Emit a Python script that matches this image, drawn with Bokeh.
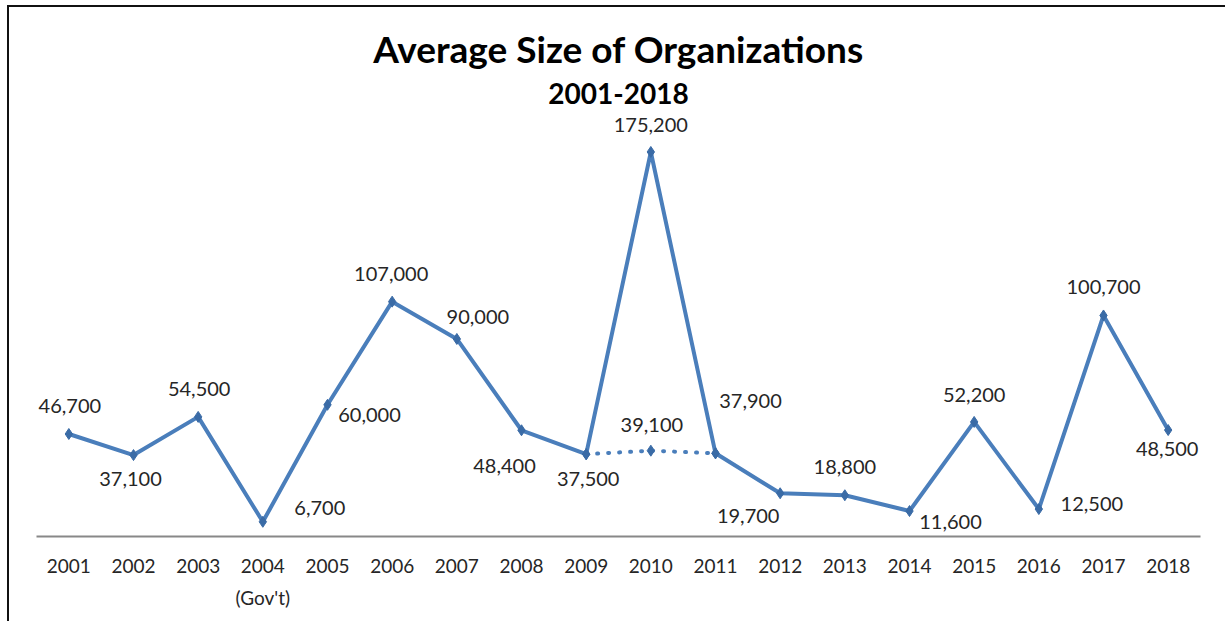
from bokeh.plotting import figure
from bokeh.models import (ColumnDataSource, FactorRange, Range1d, Title,
                          CategoricalAxis, CustomJSTickFormatter)
from bokeh.embed import file_html
from bokeh.resources import INLINE
from bokeh.core.properties import value

# ---- data ----
years = ["2001", "2002", "2003", "2004", "2005", "2006", "2007", "2008", "2009",
         "2010", "2011", "2012", "2013", "2014", "2015", "2016", "2017", "2018"]
avg_size = [46700, 37100, 54500, 6700, 60000, 107000, 90000, 48400, 37500,
            175200, 37900, 19700, 18800, 11600, 52200, 12500, 100700, 48500]
alt_years = ["2009", "2010", "2011"]
alt_size = [37500, 39100, 37900]
note_years = ["2004"]
note_texts = ["(Gov't)"]

# label placement (screen px offsets from each point) -- style only
lab_dx = [1, -3, 1, 57, 42, -1, 21, -17, 2, 0, 35, -32, 0, 41, 0, 53, 0, -1]
lab_dy = [-28, 24, -28, -14, 10, -28, -22, 36, 25, -27, -52, 23, -28, 11, -27, -5, -28, 19]
alt_lab_dx = [0, 1, 0]
alt_lab_dy = [0, -26, 0]

LINE = "#4A7EBB"
MARK = "#3A6BA6"
FONT = "Lato"

src = ColumnDataSource(dict(
    x=years, y=avg_size,
    lab=[f"{v:,}" for v in avg_size], dx=lab_dx, dy=lab_dy))
alt_lab = [""] * len(alt_size)
alt_lab[1] = f"{alt_size[1]:,}"
alt_src = ColumnDataSource(dict(x=alt_years, y=alt_size, lab=alt_lab,
                                dx=alt_lab_dx, dy=alt_lab_dy))

p = figure(x_range=FactorRange(*years), y_range=Range1d(0, 195000),
           width=1218, height=616, title=None,
           output_backend="svg", toolbar_location=None,
           min_border_left=27, min_border_right=27,
           min_border_top=101, min_border_bottom=87)
p.margin = (5, 0, 0, 7)
p.styles = {"border-top": "2px solid #111", "border-left": "2px solid #111"}

p.add_layout(Title(text="2001-2018", align="center", text_font=FONT,
                   text_font_size="28px", text_font_style="bold",
                   text_color="#000000", standoff=10), "above")
p.add_layout(Title(text="Average Size of Organizations", align="center",
                   text_font=FONT, text_font_size="37px",
                   text_font_style="bold", text_color="#000000",
                   standoff=10), "above")

p.outline_line_color = None
p.xgrid.grid_line_color = None
p.ygrid.grid_line_color = None
p.yaxis.visible = False
p.background_fill_color = "white"
p.border_fill_color = "white"

xa = p.xaxis[0]
xa.axis_line_color = "#888888"
xa.axis_line_width = 2
xa.major_tick_line_color = None
xa.minor_tick_line_color = None
xa.major_label_text_font = FONT
xa.major_label_text_font_size = "19px"
xa.major_label_text_color = "#262626"
xa.major_label_standoff = 16

# second line of tick labels, as a second categorical axis below
note_fmt = CustomJSTickFormatter(
    args=dict(keys=note_years, texts=note_texts),
    code="const i = keys.indexOf(tick); return i >= 0 ? texts[i] : '';")
note_axis = CategoricalAxis(
    formatter=note_fmt,
    axis_line_color=None, major_tick_line_color=None,
    minor_tick_line_color=None, major_label_standoff=4,
    major_label_text_font=FONT, major_label_text_font_size="19px",
    major_label_text_color="#262626")
p.add_layout(note_axis, "below")

# main series
p.line("x", "y", source=src, line_color=LINE, line_width=4, line_join="round")
p.scatter("x", "y", source=src, marker="diamond", size=11,
          fill_color=MARK, line_color=MARK)

# alternate (dotted) series 2009-2011
p.line("x", "y", source=alt_src, line_color=LINE, line_width=4,
       line_dash="1 10", line_cap="round")
p.scatter("x", "y", source=alt_src, marker="diamond", size=11,
          fill_color=MARK, line_color=MARK)

# data labels
p.text("x", "y", text="lab", source=src, x_offset="dx", y_offset="dy",
       text_align="center", text_baseline="middle", text_font=value(FONT),
       text_font_size="20px", text_color="#262626")
p.text("x", "y", text="lab", source=alt_src, x_offset="dx", y_offset="dy",
       text_align="center", text_baseline="middle", text_font=value(FONT),
       text_font_size="20px", text_color="#262626")

open("out.html", "w").write(file_html(p, INLINE))
